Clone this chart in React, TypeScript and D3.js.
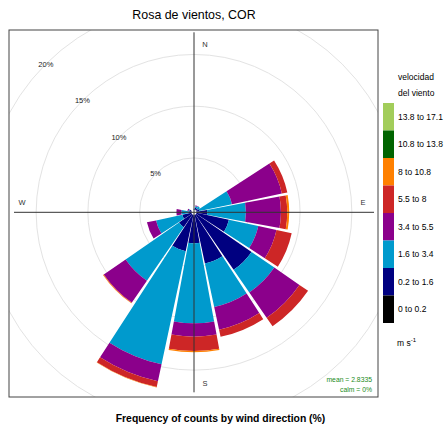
import React from "react";
import * as d3 from "d3";

// wind directions (degrees, 16 sectors)
const directions = [0, 22.5, 45, 67.5, 90, 112.5, 135, 157.5, 180, 202.5, 225, 247.5, 270, 292.5, 315, 337.5];

// frequency (%) per direction, one array per speed band
const calm0_02 = [0, 0, 0, 0, 0, 0, 0, 0, 0, 0, 0, 0, 0, 0, 0, 0];
const ws02_16 = [0.05, 0.2, 0.2, 0.3, 1.03, 3.2, 6.5, 4.8, 2.75, 3.6, 1.5, 0.9, 0.3, 0.2, 0, 0];
const ws16_34 = [0.05, 0.15, 0.25, 3.2, 3.74, 2.9, 2.67, 4.3, 7.72, 11.17, 6.27, 2.6, 0.67, 0.1, 0, 0];
const ws34_55 = [0, 0.1, 0, 4.93, 3.38, 1.8, 2.95, 2.25, 1.29, 1.67, 2.56, 0.9, 0.48, 0.1, 0, 0];
const ws55_8 = [0, 0, 0, 0.54, 0.61, 1.5, 1.01, 0.7, 1.39, 0.56, 0.05, 0, 0, 0, 0, 0];
const ws8_108 = [0, 0, 0, 0, 0.19, 0, 0, 0, 0.13, 0.05, 0.05, 0, 0, 0, 0, 0];
const ws108_138 = [0, 0, 0, 0, 0, 0, 0, 0, 0, 0, 0, 0, 0, 0, 0, 0];
const ws138_171 = [0, 0, 0, 0, 0, 0, 0, 0, 0, 0, 0, 0, 0, 0, 0, 0];

const bandLabels = ["0 to 0.2", "0.2 to 1.6", "1.6 to 3.4", "3.4 to 5.5", "5.5 to 8", "8 to 10.8", "10.8 to 13.8", "13.8 to 17.1"];
const bandColors = ["#000000", "#000080", "#009ACD", "#8B008B", "#CD2626", "#FF8000", "#006400", "#A2CD5A"];
const bands = [calm0_02, ws02_16, ws16_34, ws34_55, ws55_8, ws8_108, ws108_138, ws138_171];

const gridLevels = [5, 10, 15, 20];
const compass = [
  { label: "N", dx: 11, dy: -168 },
  { label: "E", dx: 169, dy: -10 },
  { label: "S", dx: 11, dy: 171 },
  { label: "W", dx: -172, dy: -10 },
];

const W = 444, H = 428;
const panel = { x0: 9, y0: 30, x1: 378, y1: 397 };
const cx = 194, cy = 212.3;
const font = "'Liberation Sans', Arial, Helvetica, sans-serif";

export default function App() {
  const r = d3.scaleLinear().domain([0, 20]).range([2.6, 209.6]);
  const half = 11.25, pad = 0.8;
  const arc = d3.arc();
  const rad = (deg: number) => (deg * Math.PI) / 180;

  const wedges: any[] = [];
  directions.forEach((dir, i) => {
    let cum = 0;
    bands.forEach((band, b) => {
      const v = band[i];
      if (v <= 0) return;
      const d = arc({
        innerRadius: r(cum),
        outerRadius: r(cum + v),
        startAngle: rad(dir - half + pad),
        endAngle: rad(dir + half - pad),
      } as any);
      wedges.push(<path key={i + "-" + b} d={d as string} fill={bandColors[b]} />);
      cum += v;
    });
  });

  const axisExt = 180;
  const legX = 383, legTop = 103, legH = 27.5;
  const legend = bandLabels.map((lab, k) => {
    const idx = bandLabels.length - 1 - k;
    const y = legTop + k * legH;
    return (
      <g key={lab}>
        <rect x={legX} y={y} width={11} height={legH} fill={bandColors[idx]} />
        <text x={398} y={y + legH / 2 + 3} fontSize={8.5}>{bandLabels[idx]}</text>
      </g>
    );
  });

  return (
    <svg width={W} height={H} style={{ position: "absolute", left: 0, top: 0, background: "#fff" }} fontFamily={font}>
      <defs>
        <clipPath id="pclip">
          <rect x={panel.x0} y={panel.y0} width={panel.x1 - panel.x0} height={panel.y1 - panel.y0} />
        </clipPath>
      </defs>
      <text x={194} y={18.5} fontSize={12.4} textAnchor="middle">Rosa de vientos, COR</text>

      <g clipPath="url(#pclip)">
        {gridLevels.map((g) => (
          <circle key={g} cx={cx} cy={cy} r={r(g)} fill="none" stroke="#e3e3e3" strokeWidth={1} />
        ))}
        <g transform={`translate(${cx},${cy})`}>{wedges}</g>
        <line x1={cx} x2={cx} y1={cy - axisExt} y2={cy + axisExt} stroke="#333" strokeWidth={1} />
        <line x1={cx - axisExt} x2={cx + axisExt} y1={cy} y2={cy} stroke="#333" strokeWidth={1} />
        {gridLevels.map((g) => (
          <text key={g} x={cx - r(g) * Math.SQRT1_2} y={cy - r(g) * Math.SQRT1_2 + 2.5}
            fontSize={7.5} textAnchor="middle" fill="#222">{g}%</text>
        ))}
        {compass.map((c) => (
          <text key={c.label} x={cx + c.dx} y={cy + c.dy + 2.5} fontSize={7.5} textAnchor="middle" fill="#333">{c.label}</text>
        ))}
        <text x={372} y={381.7} fontSize={6.8} textAnchor="end" fill="#228B22">mean = 2.8335</text>
        <text x={372} y={391.7} fontSize={6.8} textAnchor="end" fill="#228B22">calm = 0%</text>
      </g>
      <rect x={panel.x0} y={panel.y0} width={panel.x1 - panel.x0} height={panel.y1 - panel.y0}
        fill="none" stroke="#444" strokeWidth={1} />

      <text x={398} y={80} fontSize={8.5}>velocidad</text>
      <text x={398} y={96} fontSize={8.5}>del viento</text>
      {legend}
      <text x={397} y={346} fontSize={8.5}>m s<tspan fontSize={6} dy={-4}>-1</tspan></text>

      <text x={220.5} y={421.5} fontSize={10.4} fontWeight="bold" textAnchor="middle">Frequency of counts by wind direction (%)</text>
    </svg>
  );
}
